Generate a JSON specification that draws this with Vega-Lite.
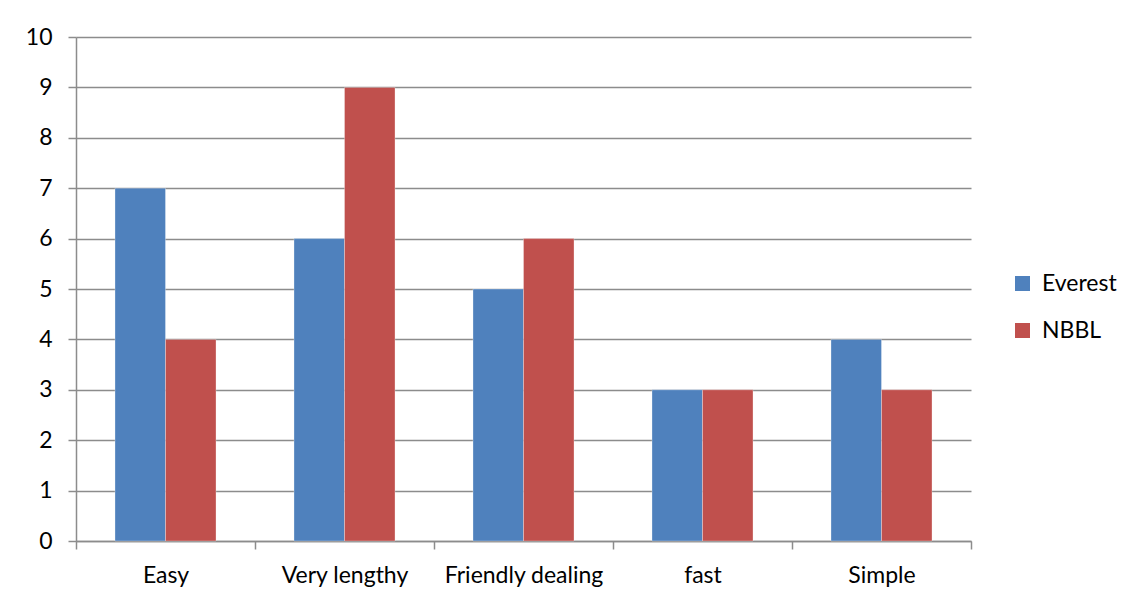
{
  "$schema": "https://vega.github.io/schema/vega-lite/v6.json",
  "width": 895,
  "height": 504,
  "autosize": {"type": "none"},
  "padding": {"left": 76, "top": 37, "right": 166, "bottom": 62},
  "background": "white",
  "config": {
    "view": {"stroke": null},
    "font": "Lato",
    "axis": {"labelFont": "Lato", "labelFontSize": 23, "labelColor": "#000000", "domainColor": "#8c8c8c", "tickColor": "#8c8c8c", "domainWidth": 1.5, "tickWidth": 1.5, "gridColor": "#8c8c8c", "gridWidth": 1.5, "gridOpacity": 1},
    "legend": {"labelFont": "Lato", "labelFontSize": 23, "labelColor": "#000000"}
  },
  "data": {
    "values": [
      {"category": "Easy", "series": "Everest", "value": 7},
      {"category": "Easy", "series": "NBBL", "value": 4},
      {"category": "Very lengthy", "series": "Everest", "value": 6},
      {"category": "Very lengthy", "series": "NBBL", "value": 9},
      {"category": "Friendly dealing", "series": "Everest", "value": 5},
      {"category": "Friendly dealing", "series": "NBBL", "value": 6},
      {"category": "fast", "series": "Everest", "value": 3},
      {"category": "fast", "series": "NBBL", "value": 3},
      {"category": "Simple", "series": "Everest", "value": 4},
      {"category": "Simple", "series": "NBBL", "value": 3}
    ]
  },
  "mark": {"type": "bar", "stroke": "#ffffff", "strokeOpacity": 0.3, "strokeWidth": 1},
  "encoding": {
    "x": {
      "field": "category", "type": "nominal", "sort": null,
      "scale": {"paddingInner": 0, "paddingOuter": 0},
      "axis": {"title": null, "labelAngle": 0, "tickBand": "extent", "tickSize": 8, "labelPadding": 15, "grid": false}
    },
    "xOffset": {"field": "series", "type": "nominal", "scale": {"paddingInner": 0, "paddingOuter": 0.772}},
    "y": {
      "field": "value", "type": "quantitative",
      "scale": {"domain": [0, 10], "nice": false},
      "axis": {"title": null, "values": [0,1,2,3,4,5,6,7,8,9,10], "tickSize": 8, "labelPadding": 16, "grid": true}
    },
    "color": {
      "field": "series", "type": "nominal",
      "scale": {"domain": ["Everest", "NBBL"], "range": ["#4f81bd", "#c0504d"]},
      "legend": {"title": null, "orient": "none", "legendX": 935, "legendY": 235, "symbolType": "square", "symbolSize": 225, "symbolStrokeWidth": 0, "rowPadding": 23, "labelOffset": 8}
    }
  }
}
